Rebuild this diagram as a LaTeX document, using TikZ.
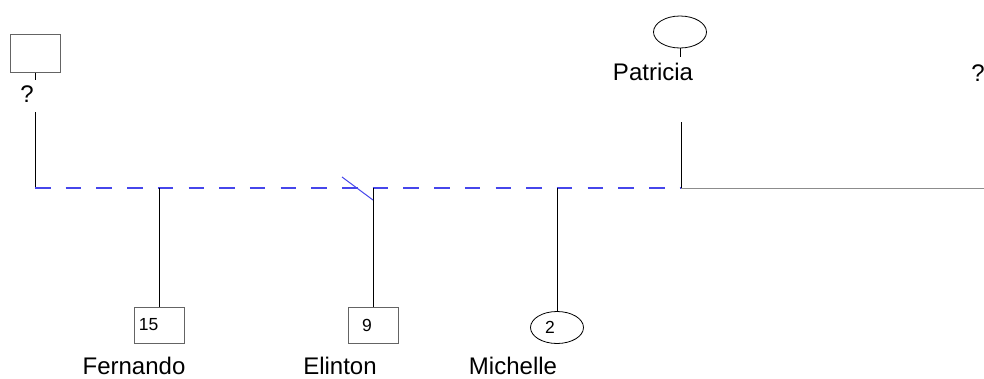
\documentclass[tikz,border=0pt]{standalone}
\usepackage{fontspec}
\setmainfont{Liberation Sans}
\usetikzlibrary{shapes.geometric}
\definecolor{boxgray}{RGB}{100,100,100}
\definecolor{linegray}{RGB}{140,140,140}
\definecolor{dashblue}{RGB}{70,70,235}
\tikzset{
  malebox/.style={draw=boxgray,line width=1pt,rectangle,inner sep=0pt,minimum width=50pt,minimum height=36pt},
  femaleell/.style={draw=black,line width=0.8pt,ellipse,inner sep=0pt,minimum width=53pt,minimum height=32pt},
  bigtxt/.style={font=\fontsize{24}{28}\selectfont,inner sep=0pt},
  numtxt/.style={font=\fontsize{17.5}{20}\selectfont,inner sep=0pt},
  conn/.style={draw=black,line width=1pt},
  union/.style={draw=dashblue,line width=1.1pt,dash pattern=on 15.5pt off 15.2pt},
  union2/.style={draw=linegray,line width=1pt},
  slash/.style={draw=dashblue,line width=1pt}
}
\begin{document}
\begin{tikzpicture}[x=1pt,y=-1pt]
\useasboundingbox (0,0) rectangle (984,378);
% top left unknown father
\node[malebox,minimum height=38pt] (gf) at (35,53) {};
\coordinate (gftick) at (35,80);
\node[bigtxt] (gfq) at (27,94) {?};
\coordinate (gftop) at (35,112);
% Patricia
\node[femaleell] (pat) at (680,32) {};
\coordinate (pattick) at (680,57);
\node[bigtxt] (patname) at (653,72) {Patricia};
\node[bigtxt] (rq) at (978,73) {?};
\coordinate (pattop) at (681,122);
% union line
\coordinate (uL) at (35,188);
\coordinate (uP) at (681,188);
\coordinate (uR) at (984,188);
\coordinate (j1) at (159,188);
\coordinate (j2) at (373,188);
\coordinate (j3) at (557,188);
\coordinate (s1) at (342,177);
\coordinate (s2) at (373,200);
% children
\node[malebox] (c1) at (159,325) {};
\node[numtxt] (c1n) at ([xshift=-10.5pt]c1.center) {15};
\node[bigtxt] (c1name) at (134,366) {Fernando};
\node[malebox] (c2) at (373,325) {};
\node[numtxt] (c2n) at ([xshift=-6pt]c2.center) {9};
\node[bigtxt] (c2name) at (340,366) {Elinton};
\node[femaleell] (c3) at (557,327.5) {};
\node[numtxt] (c3n) at ([xshift=-7pt]c3.center) {2};
\node[bigtxt] (c3name) at (513,366) {Michelle};
% connectors
\draw[conn] (gf.south) -- (gftick);
\draw[conn] (pat.south) -- (pattick);
\draw[conn] (gftop) -- (uL);
\draw[conn] (pattop) -- (uP);
\draw[union] (uL) -- (uP);
\draw[union2] (uP) -- (uR);
\draw[conn] (j1) -- (c1.north);
\draw[conn] (j2) -- (c2.north);
\draw[conn] (j3) -- (c3.north);
\draw[slash] (s1) -- (s2);
\end{tikzpicture}
\end{document}
